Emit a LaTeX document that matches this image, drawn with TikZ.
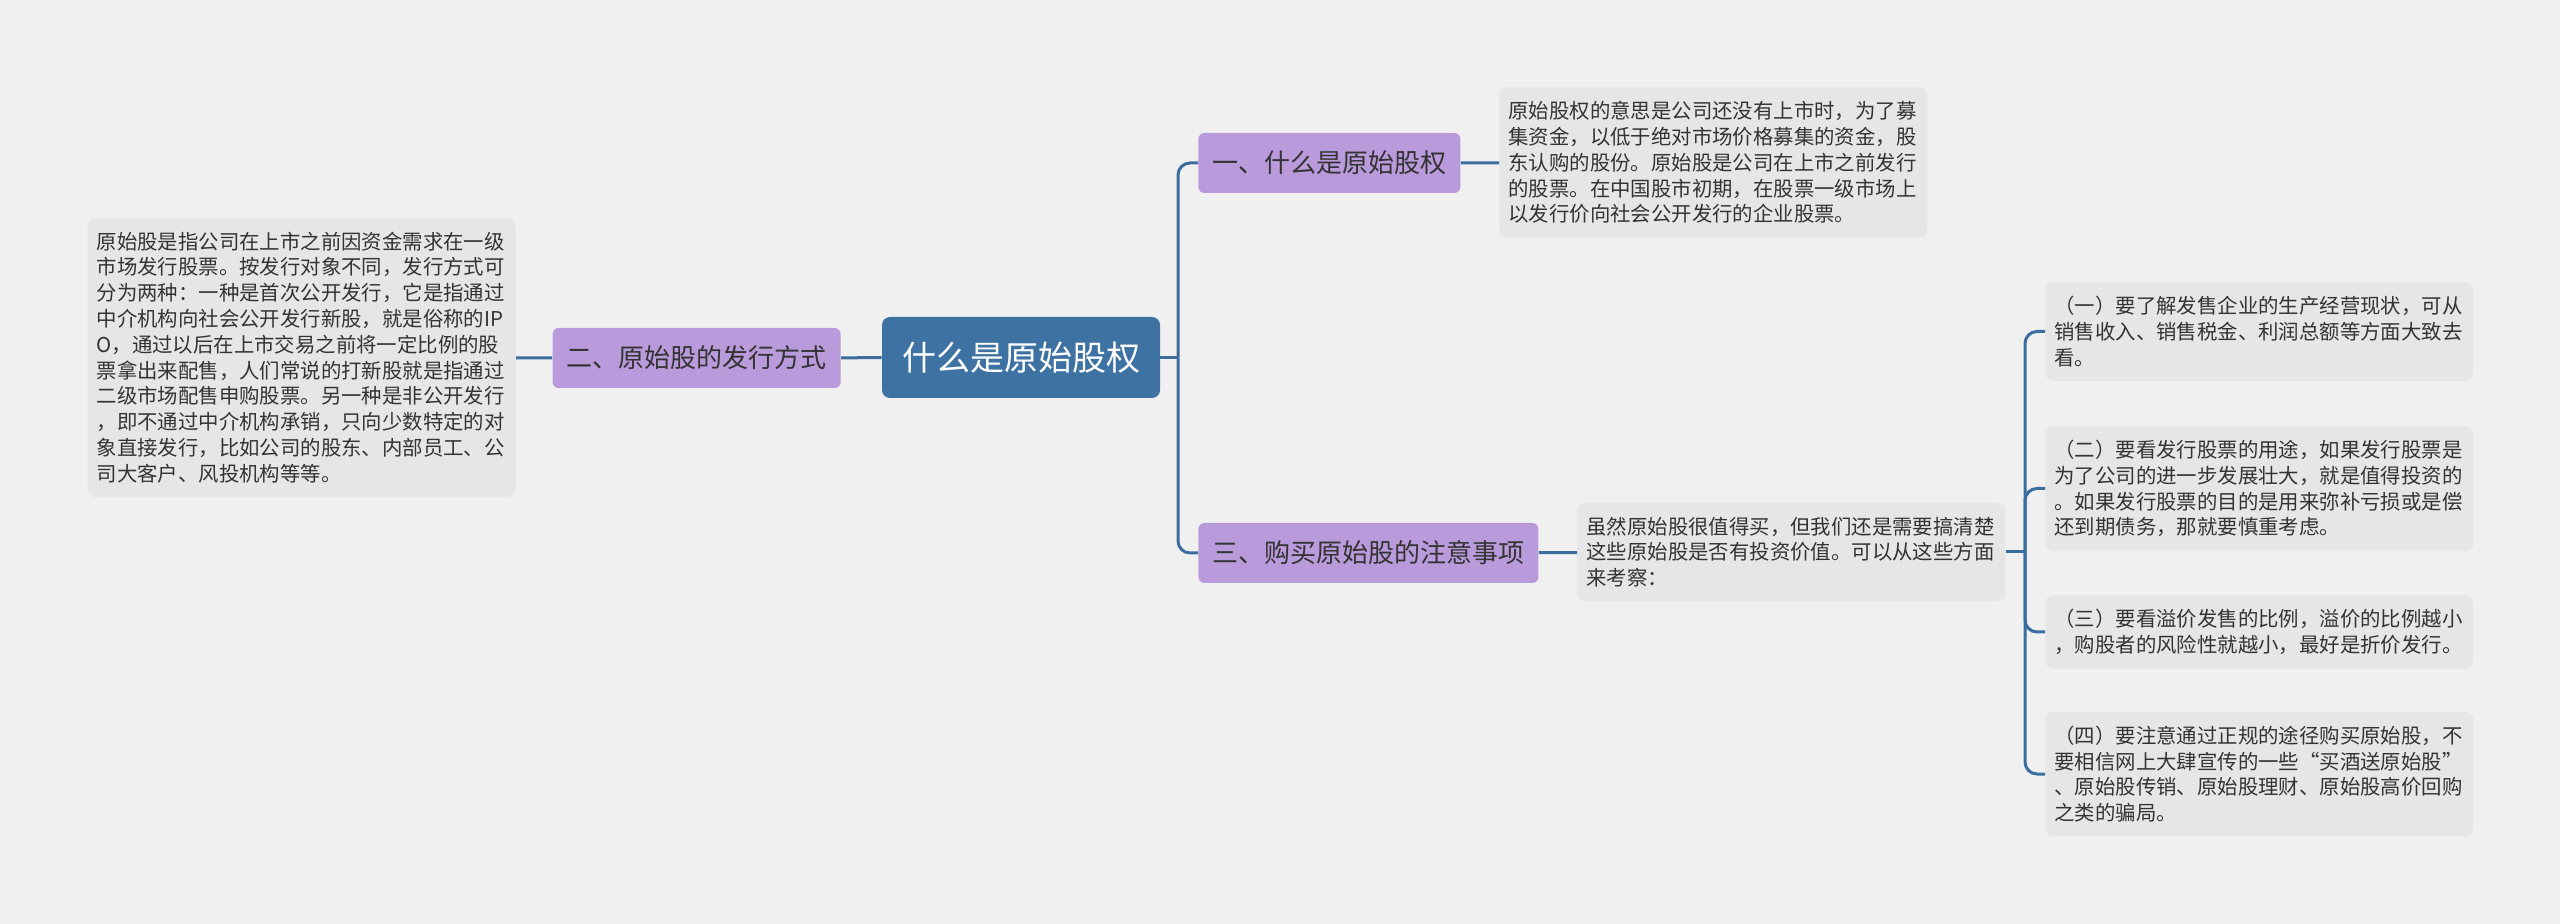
\documentclass[tikz,border=0pt]{standalone}
\usepackage{fontspec}
\newfontfamily\cjk{Noto Sans CJK SC}
\usetikzlibrary{positioning}
\definecolor{bgcol}{HTML}{F0F0F0}
\definecolor{rootcol}{HTML}{3D72A3}
\definecolor{topiccol}{HTML}{B99ADA}
\definecolor{notecol}{HTML}{E6E6E6}
\definecolor{linecol}{HTML}{3B6E9E}
\definecolor{txtcol}{HTML}{333333}
\tikzset{
    root/.style={fill=rootcol, rounded corners=4pt, text=white,
        font=\cjk\fontsize{17}{20}\selectfont, inner xsep=10pt, minimum height=40.5pt},
    topic/.style={fill=topiccol, rounded corners=3pt, text=txtcol,
        font=\cjk\fontsize{13}{16}\selectfont, inner xsep=7pt, minimum height=30pt},
    note/.style={fill=notecol, rounded corners=4pt, text=txtcol,
        font=\cjk\fontsize{10.2}{12.9}\selectfont, text width=205pt, align=left,
        inner xsep=4.5pt, inner ysep=7pt},
    link/.style={draw=linecol, line width=1.5pt},
    branch/.style={link, rounded corners=6pt},
}
\begin{document}
\begin{tikzpicture}[x=0.5pt, y=-0.5pt]

% ---- background ----
\fill[bgcol] (0,0) rectangle (2560,924);
\useasboundingbox (0,0) rectangle (2560,924);

% ---- centre and left side ----
\node[root] (root) at (1021,357.5) {什么是原始股权};
\node[topic, anchor=east] (way) at (841,358) {二、原始股的发行方式};
\node[note, anchor=east] (waynote) at (516,357.5) {原始股是指公司在上市之前因资金需求在一级\\
市场发行股票。按发行对象不同，发行方式可\\
分为两种：一种是首次公开发行，它是指通过\\
中介机构向社会公开发行新股，就是俗称的IP\\
O，通过以后在上市交易之前将一定比例的股\\
票拿出来配售，人们常说的打新股就是指通过\\
二级市场配售申购股票。另一种是非公开发行\\
，即不通过中介机构承销，只向少数特定的对\\
象直接发行，比如公司的股东、内部员工、公\\
司大客户、风投机构等等。};

% ---- right side ----
\node[topic, anchor=west] (what) at (1198,163) {一、什么是原始股权};
\node[note, anchor=west] (whatnote) at (1499,162.5) {原始股权的意思是公司还没有上市时，为了募\\
集资金，以低于绝对市场价格募集的资金，股\\
东认购的股份。原始股是公司在上市之前发行\\
的股票。在中国股市初期，在股票一级市场上\\
以发行价向社会公开发行的企业股票。};
\node[topic, anchor=west] (buy) at (1198,553) {三、购买原始股的注意事项};
\node[note, anchor=west] (buynote) at (1577,552) {虽然原始股很值得买，但我们还是需要搞清楚\\
这些原始股是否有投资价值。可以从这些方面\\
来考察：};

% ---- four points ----
\node[note, anchor=west] (pa) at (2045,331.5) {（一）要了解发售企业的生产经营现状，可从\\
销售收入、销售税金、利润总额等方面大致去\\
看。};
\node[note, anchor=west] (pb) at (2045,488.5) {（二）要看发行股票的用途，如果发行股票是\\
为了公司的进一步发展壮大，就是值得投资的\\
。如果发行股票的目的是用来弥补亏损或是偿\\
还到期债务，那就要慎重考虑。};
\node[note, anchor=west] (pc) at (2045,632) {（三）要看溢价发售的比例，溢价的比例越小\\
，购股者的风险性就越小，最好是折价发行。};
\node[note, anchor=west] (pd) at (2045,774) {（四）要注意通过正规的途径购买原始股，不\\
要相信网上大肆宣传的一些“买酒送原始股”\\
、原始股传销、原始股理财、原始股高价回购\\
之类的骗局。};

% ---- connectors ----
\coordinate (jroot) at (1178,357.5);
\coordinate (jbuy) at (2025,552);
\draw[link] (waynote) -- (way);
\draw[link] (way) -- (root);
\draw[link] (root.east) -- (jroot);
\draw[branch] (jroot) |- (what.west);
\draw[branch] (jroot) |- (buy.west);
\draw[link] (what) -- (whatnote);
\draw[link] (buy) -- (buynote);
\draw[link] (buynote.east) -- (jbuy);
\foreach \p in {pa,pb,pc,pd}
    \draw[branch] (jbuy) |- (\p.west);

\end{tikzpicture}
\end{document}
